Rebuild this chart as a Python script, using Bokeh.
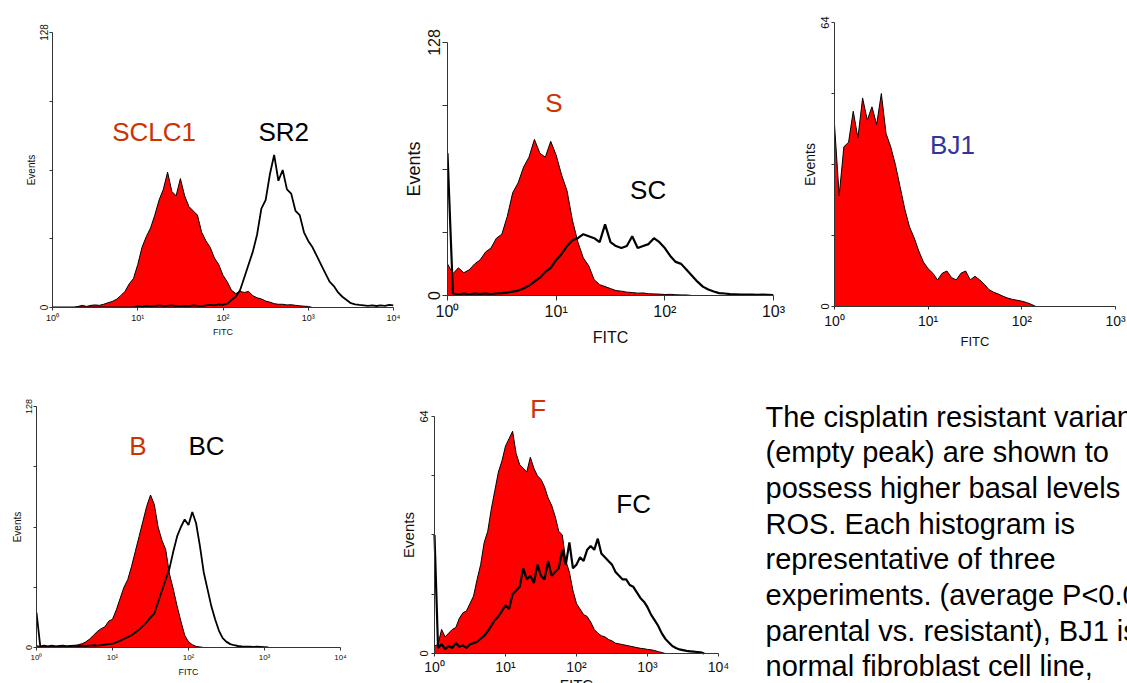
import numpy as np
from bokeh.plotting import figure
from bokeh.layouts import row, column
from bokeh.models import (Range1d, FixedTicker, Label, ColumnDataSource,
                          CustomJSTickFormatter, LogAxis, LinearAxis)
from bokeh.core.properties import value
from bokeh.embed import file_html
from bokeh.resources import INLINE

# ---------------- data (counts per log channel, 20 channels per decade) ----------------
STEP = 0.05  # decades per channel

# Panel 1: SCLC1 (parental, filled) vs SR2 (resistant, empty)
sclc1 = [0, 0, 0, 0, 0, 0, 0.5, 1, 0.5, 1, 1.2, 1, 1.5, 2.2, 2.8, 3.8, 5.5, 7.5, 11, 13.5,
         20, 28, 33, 37, 43, 50, 55, 63, 54, 52, 60, 52, 47, 45, 43, 35, 31, 28, 23, 20,
         15, 12, 8, 6.5, 7.5, 7, 7.5, 5.5, 4.5, 4, 3, 2.5, 1.8, 1.5, 1.5, 1.2, 1.3, 1, 0.8, 0.6,
         0.5, 0]
sr2 = [0, 0, 0, 0, 0, 0, 0, 0, 0, 0, 0, 0, 0, 0, 0, 0, 0, 0, 0, 0,
       0.5, 0.3, 0.8, 0.5, 0.6, 1, 0.6, 0.8, 1, 0.7, 0.5, 0.8, 0.6, 1, 0.8, 0.5, 1, 1.2, 1, 1.5,
       1.2, 1.8, 3.5, 5, 8, 14, 20, 26, 34, 46, 50, 62, 71, 59, 64, 55, 53, 45, 43, 35,
       31, 28, 24, 20, 16, 12, 10, 7, 5, 3.5, 2, 1.5, 1.2, 1, 0.8, 1, 0.7, 1, 0.8, 1.2, 1]

# Panel 2: S (parental) vs SC (resistant)
s_par = [16, 11, 14, 11.5, 13, 16, 18, 22, 24, 29, 31, 40, 52, 57, 65, 70, 79, 72, 70, 78,
         71, 61, 53, 38, 27, 19, 15, 8, 5.5, 4.5, 3.5, 2.5, 2.2, 1.7, 1.5, 1.2, 1.3, 0.9, 0.8, 0.7,
         0.5, 0.6, 0.4, 0.3, 0.3, 0]
sc_res = [72, 1, 0.5, 1, 0.6, 1, 0.8, 1, 0.7, 1, 1.2, 1.5, 2, 2.5, 3.5, 5, 7, 9, 12, 14,
          18, 21, 25, 28, 29, 31, 30, 29, 27, 36, 27, 25, 24, 25, 30, 24, 25, 26, 29, 27,
          24, 20, 17, 16, 13, 10, 7, 4.5, 3, 2, 1.2, 1, 0.7, 0.6, 0.5, 0.4, 0.5, 0.3, 0.4, 0.3, 0.2]

# Panel 3: BJ1 (normal fibroblast)
bj1 = [41, 25, 36, 37, 44, 38, 47, 42, 45, 41, 48, 39, 36, 32, 27, 22, 18, 15.5, 12.5, 10,
       8.5, 7.5, 6, 7.5, 8, 6.5, 6, 7.5, 8, 6, 6.8, 6, 5, 3.8, 3.2, 2.8, 2.3, 1.9, 1.6, 1.4,
       1.2, 0.9, 0.5, 0]

# Panel 4: B (parental) vs BC (resistant)
b_par = [1, 0.5, 1, 0.5, 1, 0.8, 0.5, 1, 0.7, 1, 1, 1.5, 2, 3, 4.5, 6.5, 8.5, 10, 11, 14,
         15, 20, 26, 32, 36, 43, 51, 59, 67, 75, 81, 76, 64, 57, 52, 39, 31, 22, 14, 6.5,
         3, 1.5, 0.6, 0.3, 0]
bc_res = [18.6, 0.5, 1, 0.6, 1, 0.5, 0.8, 1, 0.6, 0.8, 1, 0.7, 1, 0.8, 1, 1.2, 1, 1.3, 1.5, 1.8,
          2, 2.7, 3.5, 4.5, 5.5, 6.5, 8, 9.5, 11.5, 13.5, 16, 18, 24, 30, 36, 42, 51, 59, 64, 68,
          65, 72, 66, 54, 40, 31, 22, 15, 9, 5, 3, 1.8, 1.2, 0.8, 0.6, 0.5, 0.4, 0.3, 0.4, 0.3, 0.2, 0]

# Panel 5: F (parental) vs FC (resistant)
f_par = [2, 2.5, 6.5, 4.5, 5.5, 6.5, 7, 9.5, 11, 11.5, 13.5, 15.5, 20, 24, 30, 33, 39, 44, 49, 52,
         56, 58, 60, 54, 51, 50, 49, 53, 50, 48, 47, 45, 42, 40, 37, 33, 32, 25, 22, 17,
         13.5, 12, 10.5, 10, 8.5, 6.5, 5.5, 4.8, 4.5, 3.8, 3.4, 2.8, 2.6, 2.4, 2.2, 2, 1.8, 1.6, 1.4, 1.3,
         1.1, 1, 0.8, 0.5, 0.3, 0]
fc_res = [32, 1.5, 2.5, 1.2, 2, 1.5, 2.8, 1.8, 2.2, 1.5, 2.5, 2.8, 3.2, 4, 4.8, 6, 7.5, 9, 10, 11.5,
          13, 12, 16, 17, 18, 23, 20, 21, 19, 24, 21, 20, 25, 21, 22, 23, 28, 24, 30, 23,
          24, 26, 25, 28, 29, 28, 31, 27, 26, 25, 24, 22, 21, 20, 20, 18.5, 18, 16.5, 15, 14,
          12.5, 10.5, 9, 7.5, 5.5, 4, 3, 2, 1.5, 1.1, 0.9, 0.7, 0.6, 0.5, 0.4, 0.3, 0]

caption_lines = [
    "The cisplatin resistant variants",
    "(empty peak) are shown to",
    "possess higher basal levels of",
    "ROS. Each histogram is",
    "representative of three",
    "experiments. (average P<0.05",
    "parental vs. resistant), BJ1 is",
    "normal fibroblast cell line,",
]

# ---------------- styling ----------------
FONT = "Liberation Sans"
RED = "#ff0000"
LABEL_RED = "#cc3300"
LABEL_BLUE = "#333399"
AXIS = "#333333"
TXT = "#111111"

X_FMT_CODE = """
const sup = ["\\u2070", "\\u00b9", "\\u00b2", "\\u00b3", "\\u2074"];
return "10" + sup[Math.round(Math.log10(tick))];
"""


def style_axis(ax, fs, tick_fs, so):
    ax.axis_line_color = AXIS
    ax.major_tick_line_color = AXIS
    ax.minor_tick_line_color = None
    ax.major_tick_in = 0
    ax.major_tick_out = fs["tick"]
    ax.major_label_text_font = FONT
    ax.major_label_text_color = TXT
    ax.major_label_text_font_size = f"{tick_fs}px"
    ax.major_label_standoff = so
    ax.axis_label_text_font = FONT
    ax.axis_label_text_font_style = "normal"
    ax.axis_label_text_color = TXT


def make_panel(width, height, borders, decades, ymax, fs, xr=None, yr=None, fixed=False):
    left, right, top, bottom = borders
    x0, x1 = xr if xr else (1, 10 ** decades)
    y0, y1 = yr if yr else (0, ymax)
    p = figure(width=width, height=height, x_axis_type="log",
               x_range=Range1d(x0, x1), y_range=Range1d(y0, y1),
               output_backend="svg", toolbar_location=None,
               x_axis_location=None if fixed else "below",
               y_axis_location=None if fixed else "left",
               min_border_left=left, min_border_right=right,
               min_border_top=top, min_border_bottom=bottom)
    p.frame_align = False
    p.outline_line_color = None
    p.grid.visible = False
    p.background_fill_color = "white"
    p.border_fill_color = "white"

    if fixed:
        xax = LogAxis(fixed_location=0, bounds=(1, 10 ** decades))
        p.add_layout(xax, "below")
        yax = LinearAxis(fixed_location=1)
        p.add_layout(yax, "left")
    else:
        xax = p.xaxis[0]
        yax = p.yaxis[0]
    xax.axis_label = "FITC" if not fixed else None
    xax.axis_label_text_font_size = f"{fs['xl']}px"
    xax.axis_label_standoff = fs["xlso"]
    xax.ticker = FixedTicker(ticks=[10 ** k for k in range(decades + 1)])
    xax.formatter = CustomJSTickFormatter(code=X_FMT_CODE)
    style_axis(xax, fs, fs["xt"], fs["xso"])

    yax.ticker = FixedTicker(ticks=[0, ymax / 4, ymax / 2, 3 * ymax / 4, ymax])
    yax.formatter = CustomJSTickFormatter(
        args=dict(top=ymax),
        code="return (tick == 0 || tick == top) ? tick.toFixed(0) : '';")
    yax.major_label_orientation = "vertical"
    yax.bounds = (0, ymax)
    style_axis(yax, fs, fs["yt"], fs["yso"])
    yax.axis_label = "Events"
    yax.axis_label_text_font_size = f"{fs['yl']}px"
    yax.axis_label_standoff = fs["ylso"]
    return p


def channels(counts):
    return 10 ** (np.arange(len(counts)) * STEP)


def filled(p, counts):
    src = ColumnDataSource(dict(x=channels(counts), y=counts))
    p.varea(x="x", y1=0, y2="y", source=src, fill_color=RED)
    p.line("x", "y", source=src, line_color="black", line_width=1)


def empty(p, counts, lw=1.8):
    src = ColumnDataSource(dict(x=channels(counts), y=counts))
    p.line("x", "y", source=src, line_color="black", line_width=lw)


def tag(p, x, y, text, color):
    p.add_layout(Label(x=x, y=y, text=text, text_color=color, text_font=FONT,
                       text_font_size="26px", text_align="left",
                       text_baseline="alphabetic"))


# ---- top row (0..375 px) ----
p1 = make_panel(400, 375, (52, 7, 32, 68), 4, 128,
                dict(tick=3, xt=9, yt=10, xl=9, yl=10, xso=2, yso=2, xlso=1, ylso=0))
filled(p1, sclc1)
empty(p1, sr2)
tag(p1, 10 ** 0.70, 81.9, "SCLC1", LABEL_RED)
tag(p1, 10 ** 2.415, 81.9, "SR2", "black")

p2 = make_panel(398, 375, (47, 25, 42, 80), 3, 128,
                dict(tick=5, xt=16, yt=16, xl=16, yl=18, xso=2, yso=3, xlso=6, ylso=1))
filled(p2, s_par)
empty(p2, sc_res, lw=2.2)
tag(p2, 10 ** 0.90, 97.2, "S", LABEL_RED)
tag(p2, 10 ** 1.68, 53.6, "SC", "black")

p3 = make_panel(329, 375, (35, 12, 22, 69), 3, 64,
                dict(tick=3, xt=14, yt=11, xl=13, yl=14, xso=3, yso=3, xlso=2, ylso=0))
filled(p3, bj1)
tag(p3, 10 ** 1.02, 36.5, "BJ1", LABEL_BLUE)

# ---- bottom row (375..683 px) ----
p4 = make_panel(398, 308, (36, 58, 31, 36), 4, 128,
                dict(tick=3, xt=8, yt=9, xl=9, yl=10, xso=2, yso=2, xlso=2, ylso=0))
filled(p4, b_par)
empty(p4, bc_res)
tag(p4, 10 ** 1.22, 106.8, "B", LABEL_RED)
tag(p4, 10 ** 2.0, 106.8, "BC", "black")

# panel 5 runs into the bottom edge of the page: its frame fills the canvas and
# its axes sit at fixed data locations (x = 1, y = 0)
p5 = make_panel(340, 308, (0, 0, 0, 0), 4, 64,
                dict(tick=3, xt=14, yt=11, xl=15, yl=15, xso=2, yso=3, xlso=2, ylso=1),
                xr=(10 ** -0.507, 10 ** 4.282), yr=(-8.10, 75.07), fixed=True)
filled(p5, f_par)
empty(p5, fc_res, lw=2.2)
tag(p5, 10 ** 1.35, 66.1, "F", LABEL_RED)
tag(p5, 10 ** 2.56, 40.4, "FC", "black")
p5.add_layout(Label(x=100, y=-6.2, text="FITC", text_font=FONT, text_font_size="15px",
                    text_align="center", text_baseline="top", text_color=TXT))

# ---- caption ----
pt = figure(width=389, height=308, x_range=Range1d(0, 389), y_range=Range1d(308, 0),
            output_backend="svg", toolbar_location=None,
            x_axis_location=None, y_axis_location=None,
            min_border=0, min_border_left=0, min_border_right=0,
            min_border_top=0, min_border_bottom=0)
pt.frame_align = False
pt.outline_line_color = None
pt.grid.visible = False
pt.background_fill_color = "white"
pt.border_fill_color = "white"
line_y = [41 + 35.7 * k for k in range(len(caption_lines))]
pt.text(x=[27] * len(caption_lines), y=line_y, text=caption_lines,
        text_font=value(FONT), text_font_size="29px", text_color="black",
        text_align="left", text_baseline="alphabetic")

layout = column(row(p1, p2, p3), row(p4, p5, pt))

open("out.html", "w").write(file_html(layout, INLINE))
